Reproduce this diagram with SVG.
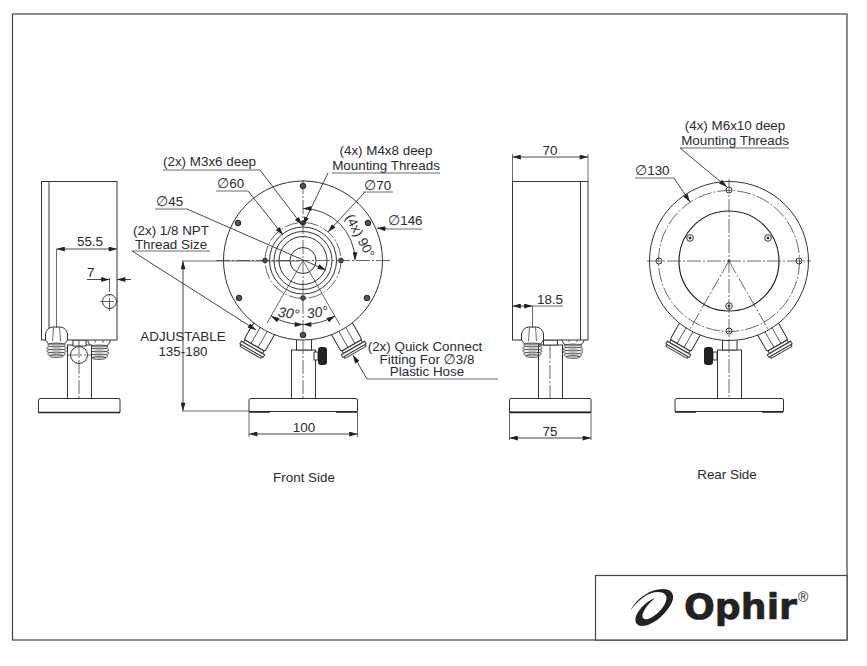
<svg xmlns="http://www.w3.org/2000/svg" width="867" height="666" viewBox="0 0 867 666">
<style>
text{font-family:"Liberation Sans",Arial,sans-serif;font-size:13.400px;fill:#2a2a30}
.m{text-anchor:middle}
.p{font-family:"DejaVu Sans",sans-serif;font-size:14px;font-style:italic}
.l,.l *{fill:none;stroke:#333;stroke-width:1}
.t{fill:none;stroke:#444;stroke-width:.8}
.f{fill:#fff;stroke:#333;stroke-width:1}
.c{fill:none;stroke:#444;stroke-width:.8;stroke-dasharray:14 2 2 2}
.h{fill:#555;stroke:#222;stroke-width:1}
.b{fill:#222;stroke:#222}
.d{fill:none;stroke:#333;stroke-width:.9;marker-end:url(#a)}
.e{fill:none;stroke:#333;stroke-width:.9;marker-start:url(#a);marker-end:url(#a)}
.x{fill:none;stroke:#444;stroke-width:.8}
</style>
<defs>
<marker id="a" viewBox="0 0 10 6" refX="10" refY="3" markerWidth="9" markerHeight="5" markerUnits="userSpaceOnUse" orient="auto-start-reverse"><path d="M0 0L10 3L0 6Z" fill="#222"/></marker>
<g id="fit">
<rect class="f" x="-12" y="-1" width="24" height="20" rx="2"/>
<path class="t" d="M-4 -1V19M4 -1V19"/>
<rect class="f" x="-11" y="19" width="22" height="3"/>
<rect class="f" x="-13.500" y="22" width="27" height="3"/>
<rect class="f" x="-12" y="25" width="24" height="2"/>
</g>
<g id="sfit">
<path class="f" d="M-11 13V7Q-10 1 -4 0H4Q10 1 11 7V13L8 17H-8Z"/>
<path class="t" d="M-3 0L-4 14M3 0L4 14"/>
<g class="t"><ellipse cx="0" cy="18" rx="9" ry="2"/><ellipse cx="0" cy="21" rx="10" ry="2"/><ellipse cx="0" cy="24" rx="10" ry="2"/><ellipse cx="0" cy="27" rx="9" ry="2"/><ellipse cx="0" cy="29" rx="7" ry="1.500"/></g>
</g>
<g id="knob"><rect class="f" x="-8" y="5" width="4" height="8"/><rect x="-4" y="0" width="9" height="18" rx="3" fill="#222"/></g>
</defs>
<rect width="867" height="666" fill="#fff"/>
<rect id="frame" x="12.500" y="14" width="834.500" height="626" fill="none" stroke="#444" stroke-width="1.200"/>

<g id="logo">
<rect x="595.500" y="575.500" width="251.500" height="64.500" fill="#fff" stroke="#444" stroke-width="1.200"/>
<path fill="#222" d="M630 611C637 598 650 589 663 589C672 589 675 595 672 602C666 615 652 626 642 626C635 626 634 619 637 614C640 608 647 601 655 598C649 603 645 608 643 613C641 618 644 620 648 619C655 617 664 608 666 601C668 595 664 592 658 592C648 592 638 600 630 611Z"/>
<text x="684" y="619" textLength="113" lengthAdjust="spacingAndGlyphs" style="font-family:'DejaVu Sans',sans-serif;font-weight:700;font-size:35px;fill:#222;stroke:#222;stroke-width:.6">Ophir</text>
<text x="798" y="602" style="font-size:14px;fill:#222">®</text>
</g>

<g id="left-view">
<use href="#sfit" x="99" y="329"/>
<rect class="f" x="67.500" y="345" width="24" height="54"/>
<rect class="f" x="73" y="340" width="13" height="6"/>
<rect class="f" x="41.500" y="181.500" width="75.500" height="158.500"/>
<path class="l" d="M49 181.500V340"/>
<use href="#sfit" x="56.500" y="327"/>
<circle class="f" cx="79" cy="355" r="8.500"/>
<path class="c" d="M79 340V399M68 355H91"/>
<path class="f" d="M38.500 400Q38.500 398.500 40 398.500H119Q120 398.500 120 400V412.500H38.500Z"/>
<path class="b" d="M38.500 412.500H120" style="stroke-width:1.500"/>
<circle class="f" cx="109.500" cy="301.500" r="7"/>
<path class="c" d="M109.500 278V311M100 301.500H119"/>
</g>

<g id="front-view">
<use href="#fit" transform="translate(264 329) rotate(30)"/>
<use href="#fit" transform="translate(342 329) rotate(-30)"/>
<rect class="f" x="291.500" y="350" width="24" height="48.500"/>
<rect class="f" x="296.500" y="339" width="15" height="11"/>
<use href="#knob" x="322" y="347"/>
<path class="f" d="M249 400Q249 398.500 251 398.500H356Q357.500 398.500 357.500 400V411.500H249Z"/>
<path class="b" d="M249 412H270M336 412H357" style="stroke-width:1.500"/>
<circle class="f" cx="303" cy="260.500" r="79.500"/>
<circle class="l" cx="303" cy="260.500" r="33.500"/>
<circle class="l" cx="303" cy="260.500" r="29"/>
<circle class="l" cx="303" cy="260.500" r="24"/>
<circle class="l" cx="303" cy="260.500" r="13"/>
<circle class="c" cx="303" cy="260.500" r="38"/>
<circle class="h" cx="303" cy="186" r="2.800"/><circle class="h" cx="238" cy="223" r="2.800"/><circle class="h" cx="368" cy="223" r="2.800"/><circle class="h" cx="239" cy="298" r="2.800"/><circle class="h" cx="367" cy="298" r="2.800"/><circle class="h" cx="303" cy="335" r="2.800"/>
<circle class="h" cx="265" cy="260.500" r="2.300"/><circle class="h" cx="341" cy="260.500" r="2.300"/><circle class="h" cx="303" cy="223" r="2.300"/><circle class="h" cx="303" cy="298" r="2.300"/>
<path class="c" d="M303 180V398M216 260.500H390"/>
<path class="t" d="M303 260.500L267 323M303 260.500L340 325"/>
</g>

<g id="right-view">
<use href="#sfit" x="573" y="328"/>
<rect class="f" x="538.500" y="345" width="24" height="53.500"/>
<rect class="f" x="543.500" y="340" width="14" height="5"/>
<rect class="f" x="512.500" y="181.500" width="75.500" height="158.500"/>
<path class="l" d="M580.500 181.500V340"/>
<use href="#sfit" x="532.500" y="327"/>
<path class="c" d="M550 345V398"/>
<path class="f" d="M509.500 400Q509.500 398.500 511 398.500H590Q591 398.500 591 400V412H509.500Z"/>
<path class="b" d="M509.500 412.500H591" style="stroke-width:1.500"/>
</g>

<g id="rear-view">
<use href="#fit" transform="translate(690 329) rotate(30)"/>
<use href="#fit" transform="translate(768 329) rotate(-30)"/>
<rect class="f" x="717.500" y="350" width="24" height="49"/>
<rect class="f" x="722.500" y="339" width="14.500" height="11"/>
<use href="#knob" transform="translate(709 347) scale(-1 1)"/>
<path class="f" d="M675 400Q675 398.500 677 398.500H782Q783.500 398.500 783.500 400V411.500H675Z"/>
<path class="b" d="M675 412H696M762 412H783" style="stroke-width:1.500"/>
<circle class="f" cx="729" cy="261" r="79.500"/>
<circle class="c" cx="729" cy="261" r="70.500"/>
<circle class="l" cx="729" cy="261" r="50" style="stroke:#222;stroke-width:1.200"/>
<g class="l"><circle cx="729" cy="190" r="3"/><circle cx="659" cy="261" r="3"/><circle cx="799" cy="261" r="3"/><circle cx="729" cy="331" r="3"/><circle cx="690" cy="238" r="3.300"/><circle cx="768" cy="238" r="3.300"/><circle cx="729" cy="306" r="3.300"/></g>
<circle class="b" cx="690" cy="238" r="1"/><circle class="b" cx="768" cy="238" r="1"/><circle class="b" cx="729" cy="306" r="1"/><circle class="b" cx="729" cy="261" r="1"/>
<path class="c" d="M729 179V398M647 261H811"/>
<path class="c" d="M729 261L690 329M729 261L768 329"/>
</g>

<g id="connectors">
<path class="x" d="M56.500 249V328"/>
<path class="e" d="M56.500 249H117"/>
<path class="d" d="M87 279.500H109.500"/><path class="d" d="M131 279.500H117"/>
<path class="x" d="M182 261H300M182 411H249"/>
<path class="e" d="M183 261V411"/>
<path class="x" d="M249 412V437M357.500 412V437"/>
<path class="e" d="M249 434H357.500"/>
<path class="x" d="M155 209H187"/><path class="d" d="M187 209L326 270"/>
<path class="x" d="M216 191H248"/><path class="d" d="M248 191L283 235"/>
<path class="x" d="M163 170H260"/><path class="d" d="M260 170L302 225"/>
<path class="x" d="M332 173H440"/><path class="d" d="M328 173L303 225"/>
<path class="x" d="M363 192H393"/><path class="d" d="M365 192L328 232"/>
<path class="x" d="M388 229H422"/><path class="d" d="M388 229L377 228"/>
<path class="e" d="M303 208.500A52 52 0 0 1 355 260.500"/>
<path class="e" d="M271 316A64 64 0 0 0 303 324.500"/>
<path class="e" d="M335 316A64 64 0 0 1 303 324.500"/>
<path class="x" d="M132 251H210"/><path class="d" d="M132 251L256 330"/>
<path class="x" d="M367 379H498"/><path class="d" d="M367 379L353 355"/>
<path class="x" d="M512.500 154V181M588 154V181"/>
<path class="e" d="M512.500 157H588"/>
<path class="x" d="M532.500 306V328"/>
<path class="e" d="M512.500 306H532.500"/><path class="x" d="M532.500 306H563"/>
<path class="x" d="M509.500 412V440M591 412V440"/>
<path class="e" d="M509.500 438H591"/>
<path class="x" d="M680 148H789"/><path class="d" d="M680 148L727 187"/>
<path class="x" d="M635 178H674"/><path class="d" d="M674 178L690 202"/>
</g>

<g id="labels">
<text class="m" x="90" y="246">55.5</text>
<text x="87" y="277">7</text>
<text class="m" x="171" y="235">(2x) 1/8 NPT</text>
<text class="m" x="171" y="249">Thread Size</text>
<text x="156" y="206"><tspan class="p">∅</tspan>45</text>
<text x="217" y="188"><tspan class="p">∅</tspan>60</text>
<text x="163" y="166">(2x) M3x6 deep</text>
<text class="m" x="386" y="155">(4x) M4x8 deep</text>
<text class="m" x="386" y="170">Mounting Threads</text>
<text x="364" y="190"><tspan class="p">∅</tspan>70</text>
<text x="388" y="225"><tspan class="p">∅</tspan>146</text>
<text class="m" transform="translate(356 238) rotate(62)">(4x) 90°</text>
<text class="m" transform="translate(288 318) rotate(8)" style="font-style:italic;font-size:14px">30°</text>
<text class="m" transform="translate(318 317) rotate(-8)" style="font-style:italic;font-size:14px">30°</text>
<text class="m" x="183" y="341">ADJUSTABLE</text>
<text class="m" x="183" y="356">135-180</text>
<text class="m" x="304" y="432">100</text>
<text class="m" x="425" y="351">(2x) Quick Connect</text>
<text class="m" x="427" y="364">Fitting For <tspan class="p">∅</tspan>3/8</text>
<text class="m" x="427" y="376">Plastic Hose</text>
<text class="m" x="304" y="482">Front Side</text>
<text class="m" x="550" y="155">70</text>
<text class="m" x="550" y="304">18.5</text>
<text class="m" x="550" y="436">75</text>
<text class="m" x="735" y="130">(4x) M6x10 deep</text>
<text class="m" x="735" y="145">Mounting Threads</text>
<text x="635" y="175"><tspan class="p">∅</tspan>130</text>
<text class="m" x="727" y="479">Rear Side</text>
</g>
</svg>
